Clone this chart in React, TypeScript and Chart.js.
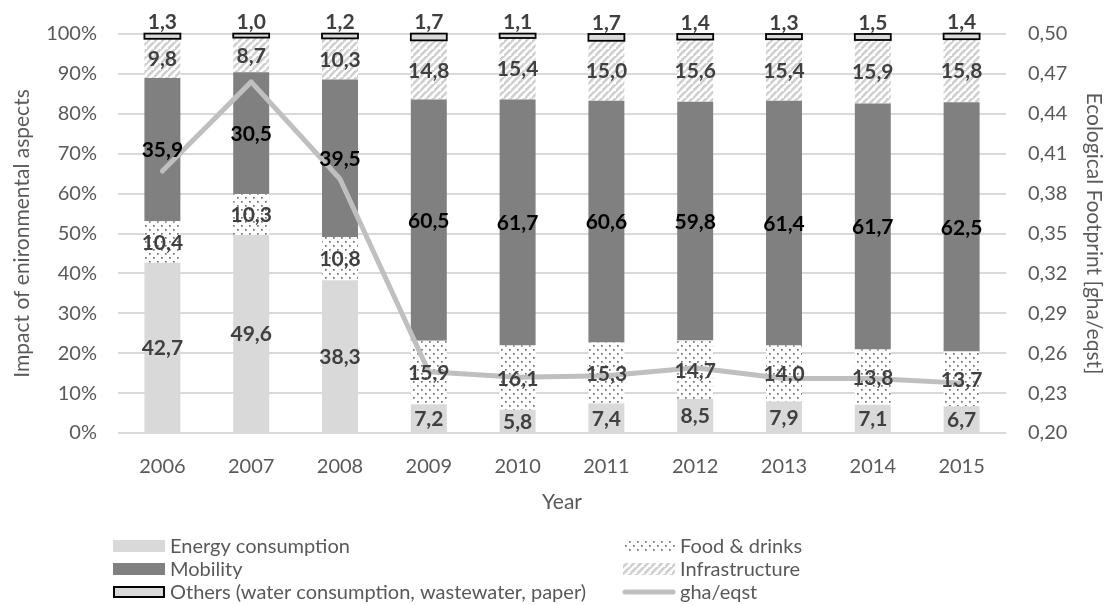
import React, { useEffect, useRef } from "react";
import { Chart, registerables } from "chart.js";

Chart.register(...registerables);

// Years on the category axis
const years = ["2006", "2007", "2008", "2009", "2010", "2011", "2012", "2013", "2014", "2015"];

// Share of each environmental aspect (%)
const energy = [42.7, 49.6, 38.3, 7.2, 5.8, 7.4, 8.5, 7.9, 7.1, 6.7];
const food = [10.4, 10.3, 10.8, 15.9, 16.1, 15.3, 14.7, 14.0, 13.8, 13.7];
const mobility = [35.9, 30.5, 39.5, 60.5, 61.7, 60.6, 59.8, 61.4, 61.7, 62.5];
const infrastructure = [9.8, 8.7, 10.3, 14.8, 15.4, 15.0, 15.6, 15.4, 15.9, 15.8];
const others = [1.3, 1.0, 1.2, 1.7, 1.1, 1.7, 1.4, 1.3, 1.5, 1.4];

// Ecological footprint per equivalent student (gha/eqst)
const footprint = [0.397, 0.464, 0.391, 0.246, 0.242, 0.243, 0.249, 0.241, 0.241, 0.2375];

// Axis ticks
const leftTicks = [0, 10, 20, 30, 40, 50, 60, 70, 80, 90, 100];
const rightTicks = [0.2, 0.23, 0.26, 0.29, 0.32, 0.35, 0.38, 0.41, 0.44, 0.47, 0.5];

const FONT = "Lato, 'Open Sans', sans-serif";
const TEXT = "#595959";
const ENERGY_COLOR = "#d9d9d9";
const MOBILITY_COLOR = "#808080";
const OTHERS_COLOR = "#d9d9d9";
const LINE_COLOR = "#bfbfbf";

function dotPattern(ctx: CanvasRenderingContext2D): CanvasPattern | string {
  const c = document.createElement("canvas");
  c.width = 8;
  c.height = 8;
  const p = c.getContext("2d")!;
  p.fillStyle = "#ffffff";
  p.fillRect(0, 0, 8, 8);
  p.fillStyle = "#707070";
  p.fillRect(1, 1, 1.7, 1.7);
  p.fillRect(5, 5, 1.7, 1.7);
  return ctx.createPattern(c, "repeat") || "#eeeeee";
}

function stripePattern(ctx: CanvasRenderingContext2D): CanvasPattern | string {
  const s = 7;
  const c = document.createElement("canvas");
  c.width = s;
  c.height = s;
  const p = c.getContext("2d")!;
  p.fillStyle = "#ffffff";
  p.fillRect(0, 0, s, s);
  p.strokeStyle = "#cfcfcf";
  p.lineWidth = 2.6;
  p.beginPath();
  p.moveTo(-1, s + 1);
  p.lineTo(s + 1, -1);
  p.moveTo(-1 - s, s + 1);
  p.lineTo(1, -1);
  p.moveTo(s - 1, 2 * s + 1);
  p.lineTo(2 * s + 1, s - 1);
  p.stroke();
  return ctx.createPattern(c, "repeat") || "#eeeeee";
}

const fmt = (v: number, digits: number) => v.toFixed(digits).replace(".", ",");

export default function App() {
  const ref = useRef<HTMLCanvasElement | null>(null);

  useEffect(() => {
    const canvas = ref.current;
    if (!canvas) return;
    const ctx = canvas.getContext("2d")!;
    const dots = dotPattern(ctx);
    const stripes = stripePattern(ctx);

    const labelColors = ["#404040", "#404040", "#000000", "#404040", "#404040"];

    // Outline of the thin "Others" segment, stroked on its edges, plus value labels
    const valueLabels = {
      id: "valueLabels",
      afterDatasetsDraw(chart: any) {
        const c = chart.ctx;
        c.save();
        const om = chart.getDatasetMeta(4);
        c.strokeStyle = "#000000";
        c.lineWidth = 1.8;
        om.data.forEach((el: any) => {
          const w = el.width;
          c.strokeRect(el.x - w / 2, el.y, w, el.base - el.y);
        });
        c.font = `bold 21px ${FONT}`;
        c.textAlign = "center";
        c.textBaseline = "middle";
        for (let d = 0; d < 5; d++) {
          const meta = chart.getDatasetMeta(d);
          const data = chart.data.datasets[d].data as number[];
          meta.data.forEach((el: any, i: number) => {
            const y = d === 4 ? el.y - 12 : (el.y + el.base) / 2;
            c.fillStyle = labelColors[d];
            c.fillText(fmt(data[i], 1), el.x, y + 1);
          });
        }
        c.restore();
      },
    };

    const bottomLegend = {
      id: "bottomLegend",
      afterDraw(chart: any) {
        const c = chart.ctx;
        const rows = [546, 569, 592];
        const colSwatch = [113, 623];
        const sw = 52;
        const sh = 12;
        const entries = [
          { col: 0, row: 0, text: "Energy consumption", kind: "fill", fill: ENERGY_COLOR },
          { col: 1, row: 0, text: "Food & drinks", kind: "fill", fill: dots },
          { col: 0, row: 1, text: "Mobility", kind: "fill", fill: MOBILITY_COLOR },
          { col: 1, row: 1, text: "Infrastructure", kind: "fill", fill: stripes },
          { col: 0, row: 2, text: "Others (water consumption, wastewater, paper)", kind: "box", fill: OTHERS_COLOR },
          { col: 1, row: 2, text: "gha/eqst", kind: "line", fill: LINE_COLOR },
        ];
        c.save();
        c.font = `20px ${FONT}`;
        c.textBaseline = "middle";
        c.textAlign = "left";
        for (const e of entries) {
          const x = colSwatch[e.col];
          const y = rows[e.row];
          if (e.kind === "line") {
            c.strokeStyle = e.fill as string;
            c.lineWidth = 5;
            c.lineCap = "round";
            c.beginPath();
            c.moveTo(x + 2, y);
            c.lineTo(x + sw - 2, y);
            c.stroke();
          } else {
            c.fillStyle = e.fill as any;
            c.fillRect(x, y - sh / 2, sw, sh);
            if (e.kind === "box") {
              c.strokeStyle = "#000000";
              c.lineWidth = 2;
              c.strokeRect(x + 1, y - sh / 2 + 1, sw - 2, sh - 2);
            }
          }
          c.fillStyle = TEXT;
          c.fillText(e.text, x + sw + 5, y + 1);
        }
        c.restore();
      },
    };

    const barCommon = {
      type: "bar" as const,
      yAxisID: "y",
      stack: "aspects",
      barPercentage: 0.405,
      categoryPercentage: 1,
      order: 1,
    };

    const chart = new Chart(ctx, {
      type: "bar",
      data: {
        labels: years,
        datasets: [
          { ...barCommon, label: "Energy consumption", data: energy, backgroundColor: ENERGY_COLOR },
          { ...barCommon, label: "Food & drinks", data: food, backgroundColor: dots as any },
          { ...barCommon, label: "Mobility", data: mobility, backgroundColor: MOBILITY_COLOR },
          { ...barCommon, label: "Infrastructure", data: infrastructure, backgroundColor: stripes as any },
          {
            ...barCommon,
            label: "Others (water consumption, wastewater, paper)",
            data: others,
            backgroundColor: OTHERS_COLOR,
            borderWidth: 0,
          },
          {
            type: "line" as const,
            label: "gha/eqst",
            data: footprint,
            yAxisID: "y1",
            borderColor: LINE_COLOR,
            borderWidth: 5,
            pointRadius: 0,
            tension: 0,
            order: 0,
            borderCapStyle: "round",
            borderJoinStyle: "round",
          } as any,
        ],
      },
      options: {
        responsive: false,
        animation: false,
        devicePixelRatio: 1,
        layout: { padding: { top: 33, bottom: 90, left: 0, right: 0 } },
        plugins: {
          legend: { display: false },
          tooltip: { enabled: false },
        },
        scales: {
          x: {
            stacked: true,
            grid: { display: false, drawTicks: false },
            border: { display: false },
            ticks: { color: TEXT, font: { family: FONT, size: 20 }, padding: 22 },
            title: {
              display: true,
              text: "Year",
              color: TEXT,
              font: { family: FONT, size: 21 },
              padding: { top: 0, bottom: 0 },
            },
            afterFit: (s: any) => {
              s.height = 82;
            },
          },
          y: {
            stacked: true,
            position: "left",
            min: 0,
            max: 100,
            afterBuildTicks: (s: any) => {
              s.ticks = leftTicks.map((v) => ({ value: v }));
            },
            grid: { color: "#d9d9d9", lineWidth: 2, drawTicks: false },
            border: { display: false },
            ticks: {
              color: TEXT,
              font: { family: FONT, size: 20 },
              padding: 21,
              callback: (v: any) => `${v}%`,
            },
            title: {
              display: true,
              text: "Impact of enironmental aspects",
              color: TEXT,
              font: { family: FONT, size: 21 },
              padding: { top: 10, bottom: 0 },
            },
            afterFit: (s: any) => {
              s.width = 118;
            },
          },
          y1: {
            position: "right",
            min: 0.2,
            max: 0.5,
            afterBuildTicks: (s: any) => {
              s.ticks = rightTicks.map((v) => ({ value: v }));
            },
            grid: { display: false, drawTicks: false },
            border: { display: false },
            ticks: {
              color: TEXT,
              font: { family: FONT, size: 20 },
              padding: 22,
              callback: (v: any) => fmt(Number(v), 2),
            },
            title: {
              display: true,
              text: "Ecological Footprint [gha/eqst]",
              color: TEXT,
              font: { family: FONT, size: 21 },
              padding: { top: 2, bottom: 0 },
            },
            afterFit: (s: any) => {
              s.width = 102;
            },
          },
        },
      },
      plugins: [valueLabels, bottomLegend],
    });

    return () => chart.destroy();
  }, []);

  return (
    <div style={{ position: "absolute", left: 0, top: 0, width: 1108, height: 605, background: "#ffffff" }}>
      <canvas ref={ref} width={1108} height={605} style={{ display: "block" }} />
    </div>
  );
}
